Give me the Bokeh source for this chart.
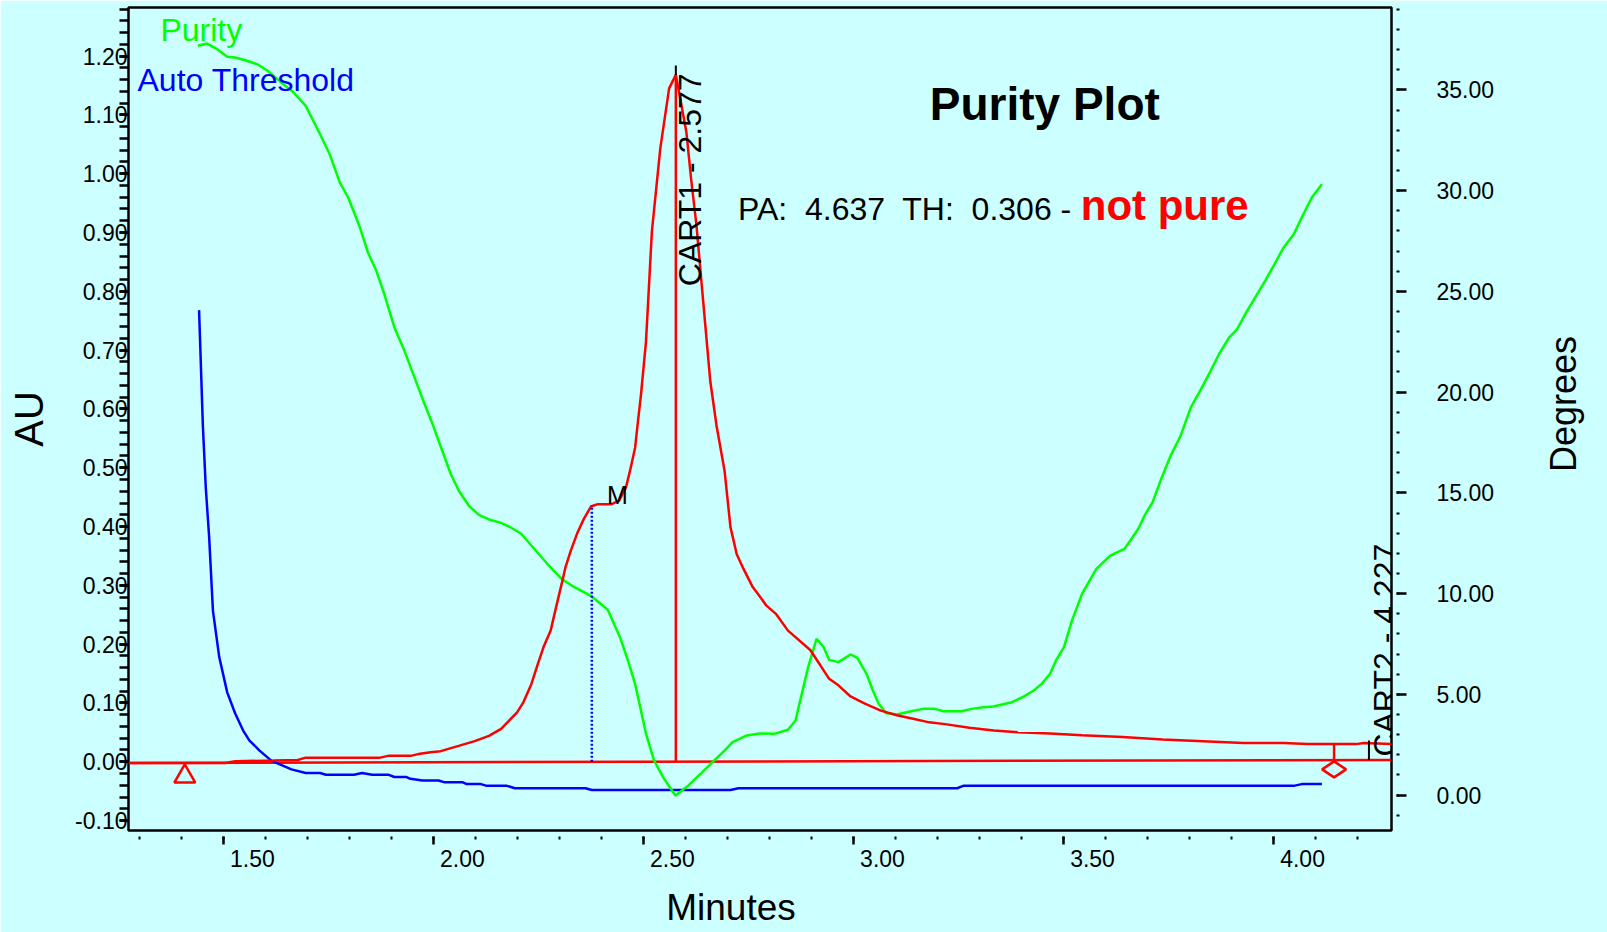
import math
import numpy as np
from bokeh.plotting import figure
from bokeh.models import (Range1d, LinearAxis, SingleIntervalTicker, FixedTicker, PrintfTickFormatter,
                          CustomJSTickFormatter, Label)
from bokeh.embed import file_html
from bokeh.resources import INLINE

# ---------------- data ----------------
# chromatogram (AU)
time_chrom = [1.274, 1.504, 1.528, 1.619, 1.677, 1.696, 1.873, 1.892, 1.945, 1.964, 1.993, 2.017,
              2.060, 2.098, 2.132, 2.161, 2.180, 2.199, 2.214, 2.233, 2.247, 2.262, 2.279, 2.290,
              2.305, 2.314, 2.327, 2.343, 2.358, 2.375, 2.391, 2.424, 2.442, 2.458, 2.468, 2.480,
              2.487, 2.494, 2.506, 2.520, 2.540, 2.561, 2.577, 2.589, 2.602, 2.614, 2.626, 2.640,
              2.659, 2.674, 2.693, 2.707, 2.722, 2.736, 2.760, 2.777, 2.792, 2.816, 2.844, 2.897,
              2.921, 2.942, 2.964, 2.993, 3.027, 3.065, 3.103, 3.142, 3.180, 3.218, 3.276, 3.334,
              3.391, 3.468, 3.544, 3.640, 3.736, 3.832, 3.928, 4.024, 4.081, 4.196, 4.215, 4.281]
au_chrom = [-0.002, -0.002, 0.001, 0.002, 0.003, 0.007, 0.007, 0.010, 0.010, 0.013, 0.016, 0.018,
            0.027, 0.035, 0.044, 0.056, 0.070, 0.084, 0.101, 0.132, 0.163, 0.195, 0.223, 0.257,
            0.302, 0.330, 0.359, 0.390, 0.413, 0.434, 0.438, 0.438, 0.444, 0.466, 0.495, 0.534,
            0.580, 0.624, 0.715, 0.902, 1.043, 1.145, 1.168, 1.122, 1.071, 0.987, 0.913, 0.800,
            0.647, 0.571, 0.495, 0.399, 0.353, 0.331, 0.297, 0.281, 0.266, 0.251, 0.223, 0.190,
            0.164, 0.141, 0.130, 0.111, 0.099, 0.087, 0.079, 0.073, 0.067, 0.064, 0.058, 0.053,
            0.050, 0.048, 0.045, 0.042, 0.038, 0.035, 0.032, 0.032, 0.030, 0.030, 0.032, 0.030]

# auto threshold (AU)
time_thr = [1.442, 1.451, 1.458, 1.466, 1.475, 1.490, 1.509, 1.528, 1.547, 1.562, 1.586, 1.614,
            1.633, 1.662, 1.696, 1.730, 1.744, 1.811, 1.830, 1.854, 1.892, 1.907, 1.936, 1.945,
            1.974, 2.012, 2.027, 2.070, 2.079, 2.113, 2.127, 2.175, 2.194, 2.362, 2.377, 2.707,
            2.726, 3.247, 3.261, 4.048, 4.067, 4.115]
au_thr = [0.768, 0.572, 0.466, 0.382, 0.257, 0.178, 0.118, 0.082, 0.053, 0.036, 0.019, 0.002,
          -0.004, -0.013, -0.019, -0.019, -0.022, -0.022, -0.019, -0.022, -0.022, -0.026, -0.026, -0.029,
          -0.032, -0.032, -0.035, -0.035, -0.038, -0.038, -0.041, -0.041, -0.045, -0.045, -0.048, -0.048,
          -0.045, -0.045, -0.041, -0.041, -0.038, -0.038]

# purity angle (Degrees)
time_pur = [1.439, 1.461, 1.485, 1.509, 1.528, 1.552, 1.581, 1.605, 1.638, 1.667, 1.696, 1.730,
            1.753, 1.777, 1.797, 1.825, 1.844, 1.864, 1.883, 1.907, 1.931, 1.955, 1.979, 1.998,
            2.012, 2.041, 2.060, 2.084, 2.108, 2.132, 2.161, 2.185, 2.209, 2.233, 2.271, 2.305,
            2.329, 2.377, 2.415, 2.444, 2.463, 2.480, 2.506, 2.525, 2.549, 2.576, 2.607, 2.640,
            2.664, 2.693, 2.712, 2.746, 2.777, 2.811, 2.844, 2.862, 2.873, 2.892, 2.912, 2.929,
            2.942, 2.964, 2.993, 3.009, 3.031, 3.046, 3.060, 3.077, 3.103, 3.137, 3.166, 3.194,
            3.214, 3.257, 3.281, 3.309, 3.333, 3.377, 3.405, 3.429, 3.448, 3.468, 3.482, 3.501,
            3.520, 3.544, 3.578, 3.611, 3.645, 3.659, 3.678, 3.693, 3.712, 3.731, 3.755, 3.779,
            3.803, 3.827, 3.846, 3.870, 3.894, 3.913, 3.937, 3.961, 3.980, 4.000, 4.024, 4.048,
            4.067, 4.091, 4.115]
deg_pur = [37.19, 37.30, 37.02, 36.64, 36.61, 36.47, 36.27, 35.95, 35.36, 34.87, 34.21, 32.80,
           31.81, 30.40, 29.66, 28.17, 26.93, 26.02, 24.86, 23.21, 22.05, 20.72, 19.40, 18.41,
           17.60, 15.95, 15.12, 14.37, 13.91, 13.68, 13.51, 13.27, 12.97, 12.39, 11.48, 10.73,
           10.40, 9.86, 9.20, 7.84, 6.68, 5.52, 3.04, 1.72, 0.81, -0.02, 0.48, 1.14,
           1.63, 2.21, 2.63, 2.96, 3.06, 3.04, 3.24, 3.70, 4.69, 6.35, 7.76, 7.34,
           6.71, 6.60, 6.98, 6.81, 6.02, 5.19, 4.53, 4.08, 4.00, 4.16, 4.28, 4.28,
           4.16, 4.16, 4.28, 4.36, 4.40, 4.61, 4.89, 5.19, 5.52, 6.02, 6.68, 7.34,
           8.66, 9.99, 11.23, 11.89, 12.22, 12.64, 13.22, 13.88, 14.54, 15.61, 16.85, 17.85,
           19.24, 20.14, 20.89, 21.88, 22.71, 23.12, 24.03, 24.86, 25.52, 26.27, 27.18, 27.84,
           28.67, 29.66, 30.32]

# integration baseline, peak and event markers
baseline_t = [1.274, 4.281]
baseline_au = [-0.002, 0.003]
peak_times = [2.577, 4.227]
peak_heights = [1.168, 0.036]
peak_labels = ["CART1 - 2.577", "CART2 - 4.227"]
start_time, start_marker_au = 1.408, -0.025
end_time, end_marker_au, end_signal_au = 4.144, -0.013, 0.030
max_time, max_au = 2.377, 0.436

x_major_ticks = [1.5, 2.0, 2.5, 3.0, 3.5, 4.0]
x_ticks_interval = 0.5
au_ticks_interval = 0.1
deg_ticks_interval = 5

# ---------------- figure ----------------
BG = "#ccffff"
FONT = "Liberation Sans"
RED, BLUE, GREEN = "#ff0000", "#0000ff", "#00ff00"
AU_PER_PX = 1.3995 / 823.0      # y-range span / frame height
MIN_PER_PX = 3.0067 / 1264.0    # x-range span / frame width

p = figure(width=1607, height=932, output_backend="svg", toolbar_location=None,
           x_range=Range1d(1.274, 4.2807), y_range=Range1d(-0.1169, 1.2826),
           background_fill_color=BG, border_fill_color=BG,
           min_border_left=128, min_border_right=215, min_border_top=7, min_border_bottom=102,
           y_axis_label="AU")
p.extra_y_ranges = {"deg": Range1d(-1.757, 39.09)}
p.grid.visible = False
p.outline_line_color = "black"
p.outline_line_width = 2.5

# bottom axis: tick marks only (no labels drawn)
xa = p.xaxis[0]
xa.ticker = SingleIntervalTicker(interval=x_ticks_interval, num_minor_ticks=5)
xa.axis_line_color = None
xa.major_tick_in = -6
xa.major_tick_out = 14
xa.major_tick_line_width = 2.5
xa.minor_tick_in = -6
xa.minor_tick_out = 9
xa.minor_tick_line_width = 2
xa.major_label_text_font_size = "0px"
xa.major_label_text_color = None
xa.major_label_standoff = 0

# bottom axis: labels, written just to the right of each major tick
label_shift = 29 * MIN_PER_PX
xb = LinearAxis(ticker=FixedTicker(ticks=[t + label_shift for t in x_major_ticks], minor_ticks=[]),
                formatter=CustomJSTickFormatter(args=dict(shift=label_shift),
                                                code="return (tick - shift).toFixed(2);"))
# bottom title "Minutes"
minutes_pos = 2.7084
xc = LinearAxis(ticker=FixedTicker(ticks=[minutes_pos], minor_ticks=[]),
                formatter=CustomJSTickFormatter(code="return 'Minutes';"))
for ax, size, standoff in ((xb, "23px", 5), (xc, "37px", 17)):
    ax.axis_line_color = None
    ax.major_tick_line_color = None
    ax.minor_tick_line_color = None
    ax.major_tick_in = 0
    ax.major_tick_out = 0
    ax.minor_tick_in = 0
    ax.minor_tick_out = 0
    ax.major_label_text_font = FONT
    ax.major_label_text_font_size = size
    ax.major_label_text_color = "black"
    ax.major_label_standoff = standoff
    p.add_layout(ax, "below")

ya = p.yaxis[0]
ya.ticker = SingleIntervalTicker(interval=au_ticks_interval, num_minor_ticks=5)
ya.formatter = PrintfTickFormatter(format="%.2f")
ya.axis_line_color = None
ya.major_tick_in = 0
ya.major_tick_out = 9
ya.major_tick_line_width = 2.5
ya.minor_tick_in = 0
ya.minor_tick_out = 9
ya.minor_tick_line_width = 2.5
ya.major_label_text_font = FONT
ya.major_label_text_font_size = "23px"
ya.major_label_text_color = "black"
ya.major_label_standoff = -8
ya.axis_label_text_font = FONT
ya.axis_label_text_font_size = "40px"
ya.axis_label_text_font_style = "normal"
ya.axis_label_text_color = "black"
ya.axis_label_standoff = 21

ra = LinearAxis(y_range_name="deg")
ra.ticker = SingleIntervalTicker(interval=deg_ticks_interval, num_minor_ticks=5)
ra.formatter = PrintfTickFormatter(format="%.2f")
ra.axis_line_color = None
ra.major_tick_in = -5
ra.major_tick_out = 15
ra.major_tick_line_width = 2.5
ra.minor_tick_in = -5
ra.minor_tick_out = 8
ra.minor_tick_line_width = 2
ra.major_label_text_font = FONT
ra.major_label_text_font_size = "23px"
ra.major_label_text_color = "black"
ra.major_label_standoff = 30
p.add_layout(ra, "right")

# right title "Degrees" (reads bottom-to-top, starting at degrees_start)
degrees_start = 16.03
rb = LinearAxis(y_range_name="deg", ticker=FixedTicker(ticks=[degrees_start], minor_ticks=[]),
                formatter=CustomJSTickFormatter(code="return 'Degrees';"))
rb.axis_line_color = None
rb.major_tick_line_color = None
rb.minor_tick_line_color = None
rb.major_tick_in = 0
rb.major_tick_out = 0
rb.minor_tick_in = 0
rb.minor_tick_out = 0
rb.major_label_orientation = math.pi / 2
rb.major_label_text_font = FONT
rb.major_label_text_font_size = "36px"
rb.major_label_text_color = "black"
rb.major_label_standoff = 66
p.add_layout(rb, "right")

# ---------------- curves ----------------
p.line(baseline_t, baseline_au, line_color=RED, line_width=2.5)
p.line(time_thr, au_thr, line_color=BLUE, line_width=2.5)
p.line(time_pur, deg_pur, line_color=GREEN, line_width=2.5, y_range_name="deg")
p.line(time_chrom, au_chrom, line_color=RED, line_width=2.5)

base_at_peaks = list(np.interp(peak_times, baseline_t, baseline_au))
p.segment(x0=[peak_times[0]], y0=[base_at_peaks[0]], x1=[peak_times[0]], y1=[peak_heights[0]],
          line_color=RED, line_width=2.5)
p.segment(x0=[peak_times[0]], y0=[peak_heights[0]], x1=[peak_times[0]], y1=[peak_heights[0] + 0.016],
          line_color="black", line_width=2)
p.segment(x0=[peak_times[1]], y0=[base_at_peaks[1]], x1=[peak_times[1]], y1=[peak_heights[1]],
          line_color="black", line_width=2)
base_end = float(np.interp(end_time, baseline_t, baseline_au))
p.segment(x0=[end_time], y0=[base_end], x1=[end_time], y1=[end_signal_au], line_color=RED, line_width=2.5)
base_max = float(np.interp(max_time, baseline_t, baseline_au))
p.segment(x0=[max_time], y0=[base_max], x1=[max_time], y1=[max_au], line_color=BLUE,
          line_width=2.5, line_dash="2 2")

p.scatter([start_time], [start_marker_au], marker="triangle", size=21, fill_color=None,
          line_color=RED, line_width=2.5)
p.scatter([end_time], [end_marker_au], marker="diamond", size=24, angle=math.pi / 2,
          fill_color=None, line_color=RED, line_width=2.5)

# ---------------- texts ----------------
DESC = 0.36   # baseline correction (fraction of font size)

def lab(x, y, text, size, color="black", style="normal", align="left", angle=0.0):
    px = float(size.replace("px", ""))
    if angle == 0.0:
        y = y + DESC * px * AU_PER_PX
    else:
        x = x - DESC * px * MIN_PER_PX
    p.add_layout(Label(x=x, y=y, text=text, text_font=FONT, text_font_size=size, text_color=color,
                       text_font_style=style, text_align=align, text_baseline="alphabetic", angle=angle))

lab(1.3501, 1.2243, "Purity", "32px", GREEN)
lab(1.2954, 1.1393, "Auto Threshold", "32px", BLUE)
lab(3.4553, 1.0901, "Purity Plot", "46px", style="bold", align="center")
lab(2.7250, 0.9196, "PA:\u00a0 4.637\u00a0 TH:\u00a0 0.306 -", "32px")
lab(3.5409, 0.9196, "not pure", "42px", RED, style="bold")
lab(2.4129, 0.4382, "M", "25px")
lab(2.637, 0.8086, peak_labels[0], "32px", angle=math.pi / 2)
lab(4.2926, 0.0088, peak_labels[1], "32px", angle=math.pi / 2)

open("out.html", "w").write(file_html(p, INLINE))
